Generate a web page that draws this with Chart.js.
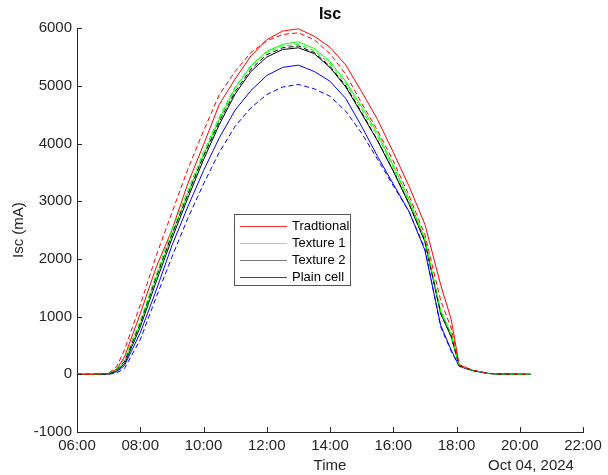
<!DOCTYPE html>
<html><head><meta charset="utf-8">
<script src="https://cdn.jsdelivr.net/npm/chart.js@4.4.1/dist/chart.umd.min.js"></script>
<style>html,body{margin:0;padding:0;background:#fff}#wrap{width:608px;height:475px;position:relative}</style>
</head><body><div id="wrap"><canvas id="c" width="608" height="475"></canvas></div>
<script>
// ---- data ----
const times = ["06:00","06:30","07:00","07:15","07:30","08:00","08:30","09:00","09:30","10:00","10:30","11:00","11:30","12:00","12:30","13:00","13:30","14:00","14:30","15:00","15:30","16:00","16:30","17:00","17:30","17:50","18:05","18:30","19:00","19:30","20:00","20:20"];
const tradSolid  = [0,0,10,90,300,1050,1850,2500,3300,3980,4680,5120,5520,5800,5950,5990,5860,5670,5360,4900,4420,3850,3260,2600,1550,950,170,70,15,3,0,0];
const tradDashed = [0,0,20,130,420,1200,2050,2800,3550,4220,4850,5250,5580,5780,5890,5920,5800,5560,5200,4700,4230,3700,3100,2420,1280,800,160,70,15,3,0,0];
const tex1Solid  = [0,0,10,70,220,870,1650,2420,3130,3800,4420,4960,5350,5600,5720,5764,5650,5420,5080,4640,4180,3620,3030,2350,1100,700,150,70,15,3,0,0];
const tex1Dashed = [0,0,15,90,260,930,1720,2500,3180,3850,4460,4980,5340,5580,5690,5720,5610,5380,5040,4590,4130,3580,2990,2330,1080,680,150,70,15,3,0,0];
const tex2Solid  = [0,0,10,60,180,820,1600,2350,3050,3720,4330,4860,5250,5500,5630,5660,5560,5320,4980,4520,4050,3520,2950,2300,1050,650,150,70,15,3,0,0];
const tex2Dashed = [0,0,12,75,220,880,1680,2420,3110,3780,4380,4900,5290,5540,5660,5690,5580,5340,5000,4540,4060,3530,2960,2310,1060,660,150,70,15,3,0,0];
const plainSolid = [0,0,5,45,150,720,1450,2230,2900,3530,4100,4580,4920,5180,5320,5360,5250,5080,4780,4300,3780,3300,2820,2150,850,420,140,65,15,3,0,0];
const plainDashed= [0,0,0,25,100,600,1330,2030,2700,3300,3850,4300,4620,4850,4980,5025,4950,4820,4560,4180,3730,3270,2820,2180,820,400,140,65,15,3,0,0];
const legendLabels = ["Tradtional","Texture 1","Texture 2","Plain cell"];
const yTicks = [-1000,0,1000,2000,3000,4000,5000,6000];
const xTicksHours = [6,8,10,12,14,16,18,20,22];
const dateLabel = "Oct 04, 2024";

const FONT = "'Liberation Sans', Arial, sans-serif";
const AX = '#262626';
const toHours = s => { const p = s.split(':').map(Number); return p[0] + p[1]/60; };
const pts = arr => times.map((t,i)=>({x:toHours(t), y:arr[i]}));
const mk = (label, arr, color, dashed, legendOrder) => ({
  label, data: pts(arr), borderColor: color, backgroundColor: color,
  borderWidth: 1, borderDash: dashed ? [5,3] : [], pointRadius: 0, tension: 0, fill: false,
  legendOrder
});
const datasets = [
  mk(legendLabels[0]+' (dashed)', tradDashed, '#ff0000', true, -1),
  mk(legendLabels[1]+' (dashed)', tex1Dashed, '#00ff00', true, -1),
  mk(legendLabels[2]+' (dashed)', tex2Dashed, '#000000', true, -1),
  mk(legendLabels[3]+' (dashed)', plainDashed, '#0000ff', true, -1),
  mk(legendLabels[0], tradSolid, '#ff0000', false, 0),
  mk(legendLabels[1], tex1Solid, '#00ff00', false, 1),
  mk(legendLabels[2], tex2Solid, '#000000', false, 2),
  mk(legendLabels[3], plainSolid, '#0000ff', false, 3)
];
const legendColors = ['#ff3030', '#60ff60', '#7a7a7a', '#3030ff'];

const extras = {
  id: 'extras',
  afterDatasetsDraw(chart) {
    const ctx = chart.ctx, xs = chart.scales.x, ys = chart.scales.y, a = chart.chartArea;
    ctx.save();
    ctx.strokeStyle = AX; ctx.lineWidth = 1;
    ctx.beginPath();
    xTicksHours.forEach(h => { const px = Math.round(xs.getPixelForValue(h)) + 0.5; ctx.moveTo(px, a.bottom); ctx.lineTo(px, a.bottom - 5); });
    yTicks.forEach(v => { const py = Math.round(ys.getPixelForValue(v)) + 0.5; ctx.moveTo(a.left, py); ctx.lineTo(a.left + 5, py); });
    ctx.stroke();
    // legend
    const bx = 234.5, by = 214.5, bw = 116, bh = 71;
    ctx.fillStyle = '#fff'; ctx.fillRect(bx, by, bw, bh);
    ctx.strokeStyle = '#555'; ctx.strokeRect(bx, by, bw, bh);
    ctx.font = '13px ' + FONT; ctx.textBaseline = 'middle'; ctx.textAlign = 'left';
    const items = chart.data.datasets.filter(d => d.legendOrder >= 0).sort((p, q) => p.legendOrder - q.legendOrder);
    items.forEach((d, i) => {
      const y = 226.5 + i * 17;
      ctx.strokeStyle = legendColors[i]; ctx.setLineDash([]);
      ctx.beginPath(); ctx.moveTo(240, y); ctx.lineTo(287, y); ctx.stroke();
      ctx.fillStyle = '#000'; ctx.fillText(d.label, 292, y);
    });
    // date secondary label
    ctx.font = '15px ' + FONT; ctx.fillStyle = AX; ctx.textAlign = 'center';
    ctx.fillText(dateLabel, 531, 466);
    ctx.restore();
  }
};

new Chart(document.getElementById('c'), {
  type: 'line',
  data: { datasets },
  options: {
    responsive: false, animation: false, devicePixelRatio: 1,
    layout: { padding: { left: 0, right: 25, top: 0, bottom: 0 } },
    plugins: {
      legend: { display: false },
      tooltip: { enabled: false },
      title: { display: true, text: 'Isc', fullSize: false, color: '#000',
        font: { family: FONT, size: 16, weight: 'bold' }, padding: { top: 5, bottom: 4 } }
    },
    scales: {
      x: {
        type: 'linear', min: 6, max: 22, position: 'bottom',
        afterFit: s => { s.height = 43; },
        afterBuildTicks: s => { s.ticks = xTicksHours.map(v => ({ value: v })); },
        ticks: { callback: v => String(v).padStart(2, '0') + ':00', color: AX,
          font: { family: FONT, size: 15 }, padding: 5, maxRotation: 0, autoSkip: false },
        grid: { display: false, drawTicks: false },
        border: { display: true, color: AX, width: 1 },
        title: { display: true, text: 'Time', color: AX, font: { family: FONT, size: 15 }, padding: { top: 0, bottom: 0 } }
      },
      y: {
        min: -1000, max: 6000,
        afterFit: s => { s.width = 77; },
        afterBuildTicks: s => { s.ticks = yTicks.map(v => ({ value: v })); },
        ticks: { callback: v => String(v), color: AX, font: { family: FONT, size: 15 }, padding: 5 },
        grid: { display: false, drawTicks: false },
        border: { display: true, color: AX, width: 1 },
        title: { display: true, text: 'Isc (mA)', color: AX, font: { family: FONT, size: 15 }, padding: { top: 10, bottom: 0 } }
      }
    }
  },
  plugins: [extras]
});
</script></body></html>
